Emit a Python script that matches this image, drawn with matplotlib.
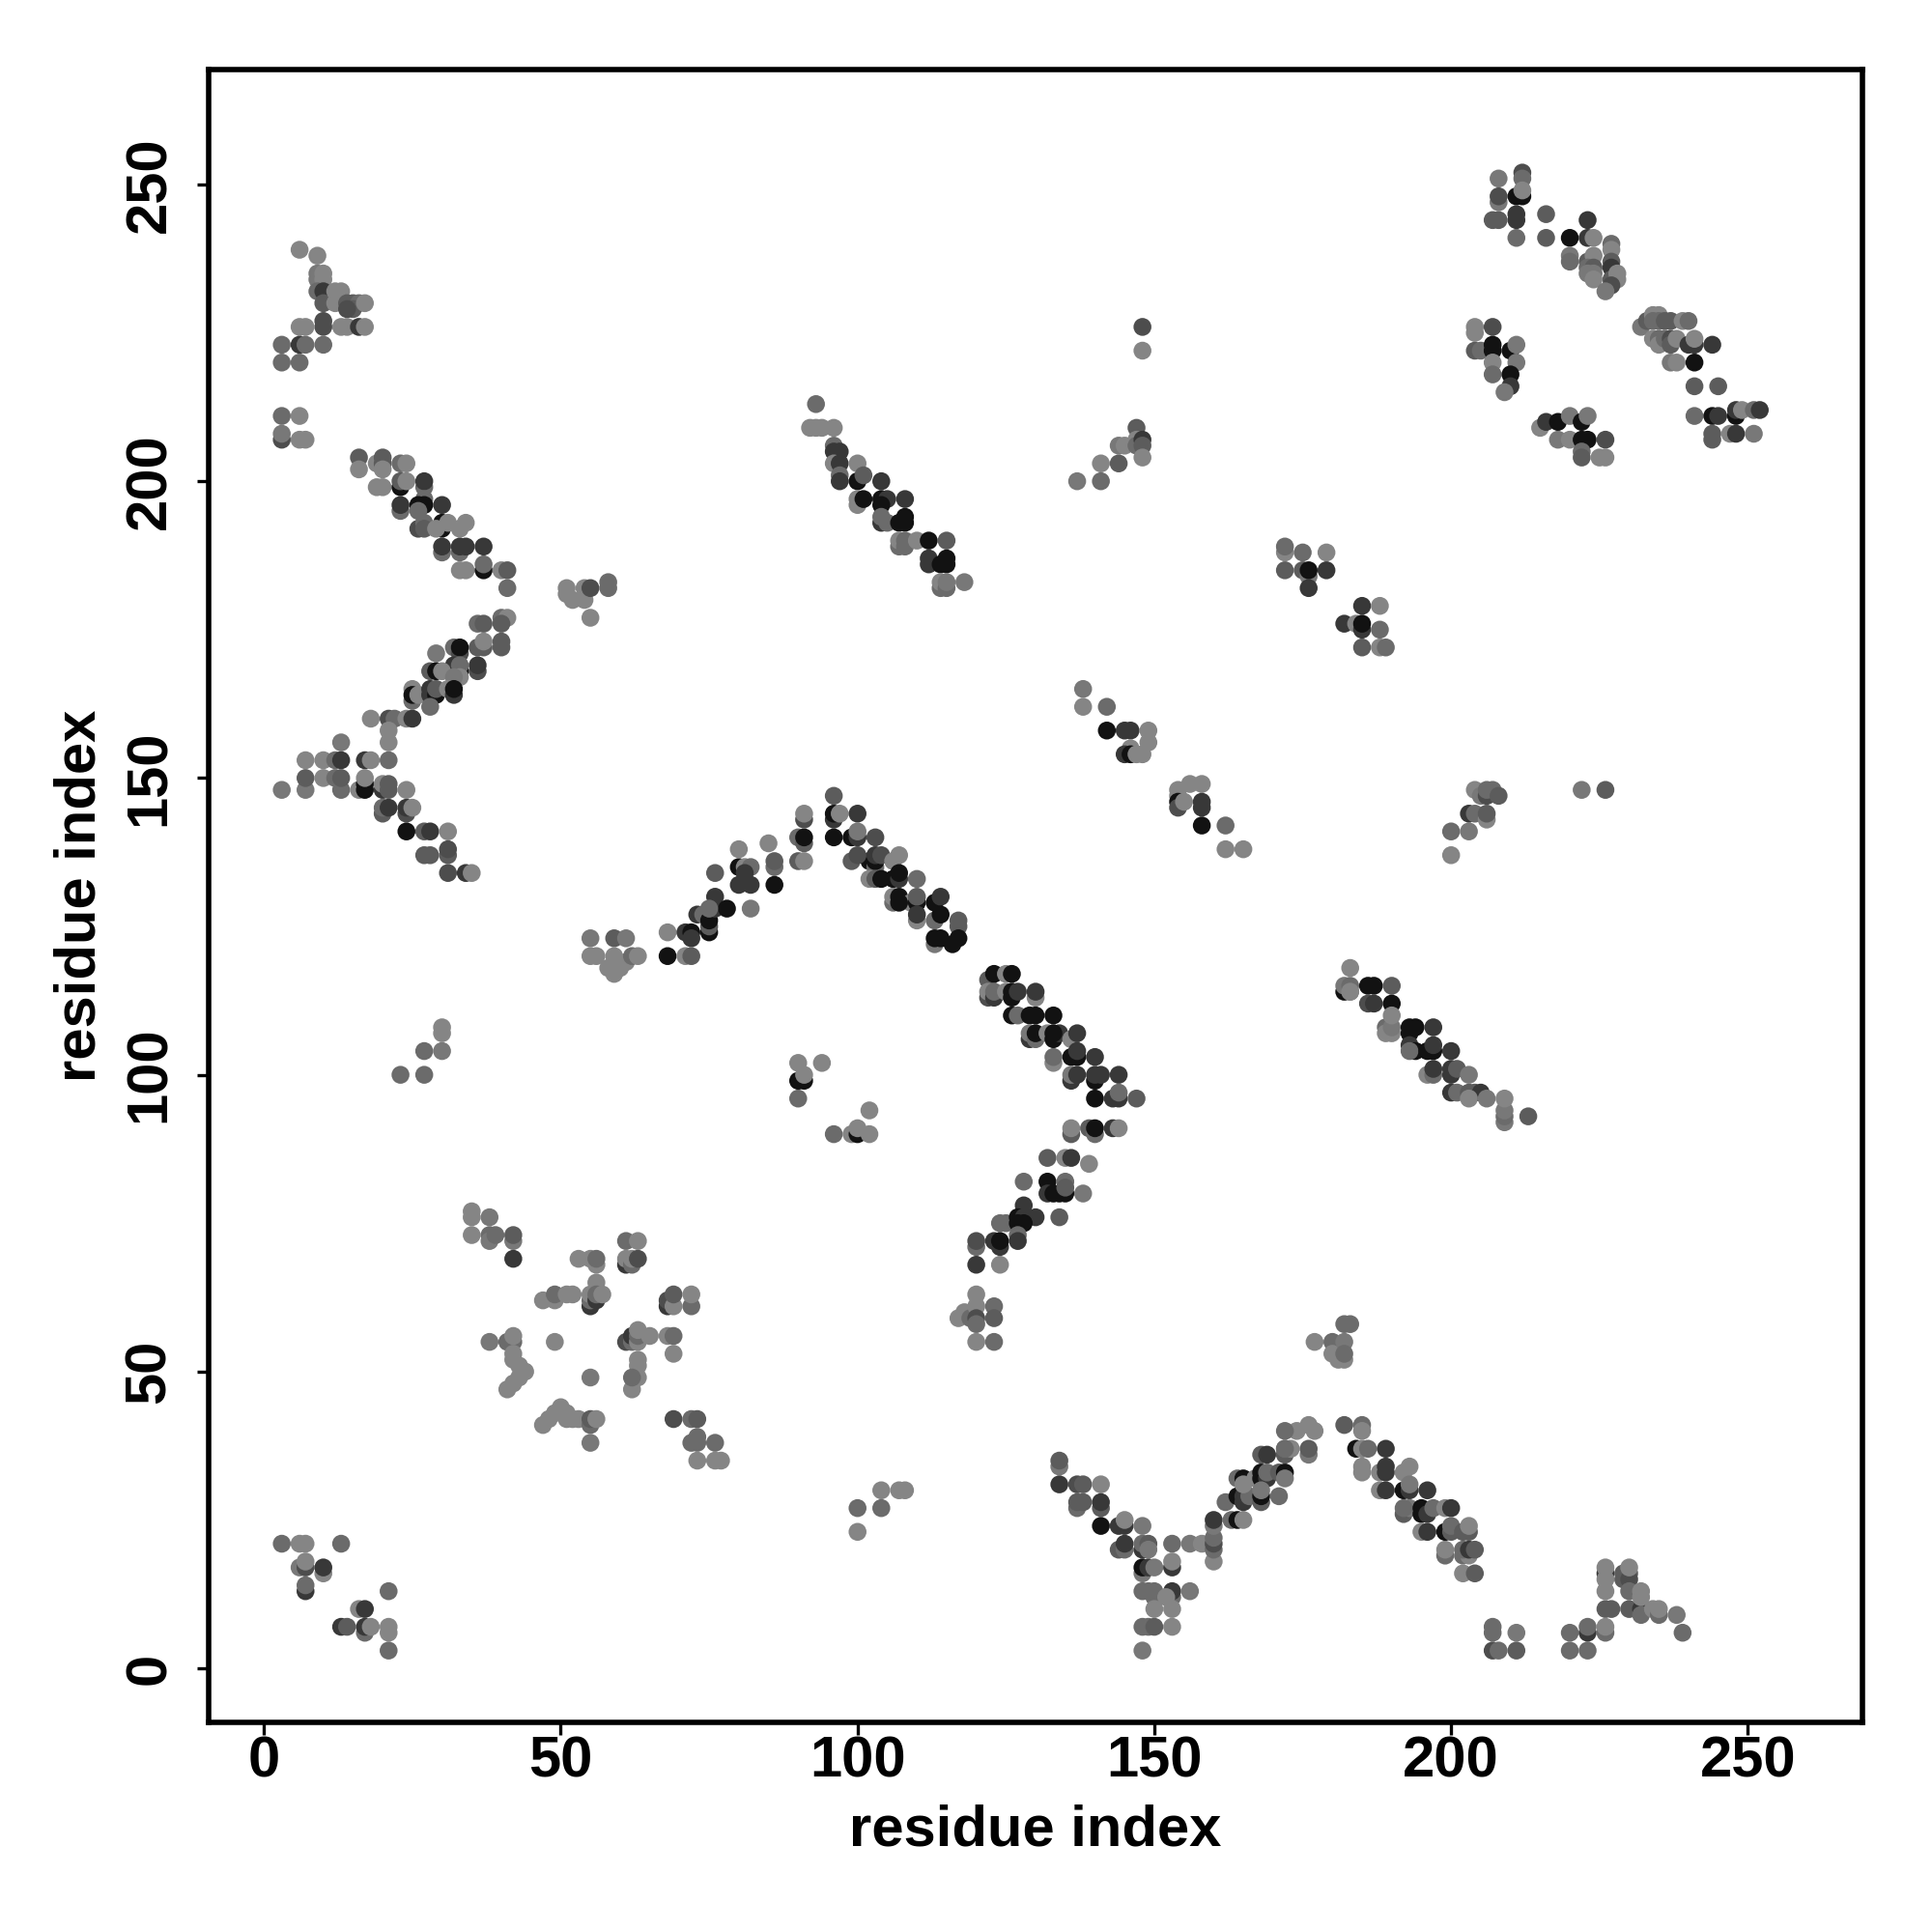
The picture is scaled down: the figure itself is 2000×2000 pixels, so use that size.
import matplotlib
matplotlib.use("Agg")
import matplotlib.pyplot as plt

# Contact map, read off the picture region by region. List order is draw order,
# later points sit on top. One shade letter per point, light (a) to black (g).
shades = {"a": 0.52, "b": 0.47, "c": 0.42, "d": 0.36, "e": 0.30, "f": 0.22, "g": 0.07}

x_top_left = [6, 9, 9, 9, 10, 10, 9, 10, 10, 12, 13, 12, 14, 15, 16, 15, 14, 17,
              10, 10, 6, 7, 13, 14, 16, 17, 6, 7, 3, 10, 3, 6, 3, 6, 3, 3, 6, 7]
y_top_left = [239, 238, 235, 234, 235, 234, 232, 232, 230, 232, 232, 230, 230, 230, 230, 229, 229, 230,
              227, 226, 226, 226, 226, 226, 226, 226, 223, 223, 223, 223, 220, 220, 211, 211, 207, 208, 207, 207]
s_top_left = "aabbaa cfd aaaddcd e a ee aaaafa f c c c c c c a e b a a".replace(" ", "")

x_diag_a = [16, 16, 19, 20, 20, 20, 19, 20, 23, 24, 23, 23, 24, 23, 23, 27, 27, 27, 26, 27, 26,
            30, 26, 27, 27, 30, 30, 31, 29, 33, 34, 30, 30, 33, 34, 33, 37, 33, 34, 37, 37, 40, 41, 41]
y_diag_a = [204, 202, 203, 203, 204, 202, 199, 199, 203, 203, 199, 200, 200, 195, 196, 199, 200, 197, 196, 196, 195,
            196, 192, 193, 192, 192, 193, 193, 192, 192, 193, 188, 189, 188, 189, 189, 189, 185, 185, 185, 186, 185, 185, 182]
s_diag_a = "da a d d a a a c a g d a c f c f c g g c f e c d g g a a a a c f c f f f a a g c a d c".replace(" ", "")

x_small_a = [51, 51, 52, 54, 54, 55, 58, 58, 55]
y_small_a = [182, 181, 180, 182, 180, 182, 183, 182, 177]
s_small_a = "aaaaaecca"

x_arm_up = [40, 41, 40, 36, 37, 36, 37, 37, 40, 40, 32, 33, 33, 29, 36, 36, 32, 32, 33, 33, 33,
            28, 29, 30, 32, 25, 25, 25, 26, 28, 28, 29, 29, 31, 32, 32, 28,
            18, 21, 22, 24, 25, 21, 21, 13]
y_arm_up = [177, 177, 176, 176, 176, 172, 172, 173, 173, 172, 172, 171, 172, 171, 168, 169, 168, 169, 168, 169, 167,
            168, 168, 168, 167, 163, 165, 164, 164, 165, 164, 164, 165, 165, 164, 165, 162,
            160, 160, 160, 160, 160, 158, 156, 156]
s_arm_up = "c a d c d d d a d d c e g b e f g f g c a d g a b c a g a f f g d a f g c a e c a f a a b".replace(" ", "")

x_arm_down = [7, 10, 12, 13, 17, 18, 21, 7, 7, 10, 12, 13, 13, 16, 17, 17, 17, 20, 20, 21, 21, 3, 24,
              20, 20, 21, 24, 24, 25, 24, 27, 28, 31, 27, 28, 31, 31, 31, 34, 35]
y_arm_down = [153, 153, 153, 153, 153, 153, 153, 148, 150, 150, 150, 148, 150, 148, 148, 149, 150, 148, 149, 148, 149, 148, 148,
              144, 145, 145, 144, 145, 145, 141, 141, 141, 141, 137, 137, 137, 138, 134, 134, 134]
s_arm_down = "a a c f f a c b d a c c d a g g a f a d d b a d c f e f a g d f a d d d e e f a d".replace(" ", "")[:40]

x_small_b = [55, 59, 61, 55, 56, 58, 59, 60, 61, 59, 62, 63]
y_small_b = [123, 123, 123, 120, 120, 118, 117, 118, 119, 120, 120, 120]
s_small_b = "bdbaaaaaaaca"

x_peak_left = [68, 71, 72, 72, 68, 71, 72, 73, 74, 75, 75, 75, 76, 76, 78, 75, 82, 76,
               80, 81, 82, 81, 80, 82, 86, 86, 86, 80, 85, 90, 91, 91, 90, 91, 91, 91, 91]
y_peak_left = [124, 124, 124, 123, 120, 120, 120, 127, 127, 124, 125, 126, 130, 128, 128, 128, 128, 134,
               135, 135, 135, 134, 132, 132, 135, 136, 132, 138, 139, 140, 139, 140, 136, 136, 143, 144, 144]
s_peak_left = "afgfgadfcgdgffgcbd gacfffcdgaacdgdaea".replace(" ", "")[:37]

x_peak_right = [96, 96, 96, 97, 100, 96, 99, 100, 100, 103, 99, 102, 103, 103, 100, 103, 104, 107, 106,
                102, 103, 104, 106, 107, 107, 110, 106, 106, 107, 109, 107, 110, 110, 110, 110,
                113, 114, 113, 114, 117, 117, 113, 113, 114, 116, 117]
y_peak_right = [147, 143, 144, 144, 144, 140, 140, 140, 141, 140, 136, 136, 135, 136, 137, 137, 137, 137, 136,
                133, 133, 133, 133, 133, 134, 133, 129, 130, 130, 129, 129, 129, 130, 126, 127,
                129, 130, 126, 127, 125, 126, 122, 123, 123, 122, 123]
s_peak_right = "dfgafggfbe dgcgefea aadggfgcc ag aggda f g f c g d d b g g".replace(" ", "")[:46]
s_peak_right = s_peak_right.ljust(len(x_peak_right), "g")

x_band_mid = [122, 123, 125, 126, 122, 122, 123, 123, 125, 126, 126, 127, 130, 130,
              126, 127, 129, 130, 133, 129, 129, 130, 130, 132, 133, 134, 133, 136, 137,
              133, 133, 136, 137, 137, 140, 136, 136, 137, 140, 141, 140, 144,
              140, 143, 144, 144, 147]
y_band_mid = [116, 117, 117, 117, 113, 114, 113, 114, 114, 113, 114, 114, 113, 114,
              110, 110, 110, 110, 110, 106, 107, 106, 107, 107, 106, 107, 107, 106, 107,
              102, 103, 103, 103, 104, 103, 99, 100, 100, 99, 100, 100, 100,
              96, 96, 96, 97, 96]
s_band_mid = "dgag e a f c a g g f a f g c g g g f b c g a g f g a f a c g g f f f b f g f f f g f f c d".replace(" ", "")[:47]

x_arm_low = [136, 136, 139, 140, 140, 143, 144, 132, 135, 136, 139, 128, 132, 135, 132, 133, 134, 135, 135, 138,
             128, 130, 134, 124, 125, 127, 128, 127, 128, 127, 127,
             120, 120, 123, 124, 124, 120, 124]
y_arm_low = [90, 91, 91, 90, 91, 91, 91, 86, 86, 86, 85, 82, 82, 82, 80, 80, 80, 80, 81, 80,
             78, 76, 76, 75, 75, 76, 76, 75, 75, 73, 72,
             71, 72, 72, 71, 72, 68, 68]
s_arm_low = "da d c g f a d a f a c g c f g g g d b f f d c c g f g g c f c e f f g f a".replace(" ", "")

x_band_right = [182, 183, 182, 183, 183, 183, 186, 187, 190, 186, 187, 190,
                189, 190, 189, 190, 190, 193, 194, 193, 197,
                193, 194, 193, 196, 197, 197, 200,
                196, 197, 197, 200, 200, 201, 203,
                200, 201, 203, 204, 205, 203, 206, 209, 209, 209, 209, 213]
y_band_right = [114, 114, 115, 115, 118, 114, 115, 115, 115, 112, 112, 112,
                108, 107, 107, 108, 110, 108, 108, 107, 108,
                105, 104, 104, 104, 104, 105, 104,
                100, 100, 101, 101, 100, 101, 100,
                97, 97, 97, 97, 97, 96, 96, 92, 93, 94, 96, 93]
s_band_right = "g a b c a a g g d e f g c a a b a g g g f f g c g g f f a c f f f d b f c d d f a b b c b a d".replace(" ", "")

x_left_low = [35, 35, 38, 35, 38, 38, 39, 42, 42, 42, 53, 55, 56, 56, 61, 63, 61, 61, 62, 62, 63,
              56, 55, 55, 55, 56, 56, 57, 47, 49, 49, 51, 52,
              68, 68, 69, 69, 72, 72]
y_left_low = [77, 76, 76, 73, 73, 72, 73, 72, 73, 69, 69, 69, 68, 69, 72, 72, 68, 69, 68, 69, 69,
              65, 61, 62, 63, 62, 63, 63, 62, 62, 63, 63, 63,
              61, 62, 61, 63, 61, 63]
s_left_low = "a a b a c b c b d f a a a c c a f a c a e a f c a f c a a a c a a f e a d c a".replace(" ", "")

x_left_mid = [38, 41, 42, 42, 42, 42, 43, 44, 43, 42, 41, 49, 55,
              61, 62, 62, 63, 63, 63, 65, 68, 69, 69, 63, 63, 62, 63, 62]
y_left_mid = [55, 55, 55, 56, 53, 52, 51, 50, 49, 48, 47, 55, 49,
              55, 55, 56, 55, 56, 57, 56, 56, 56, 53, 52, 51, 47, 49, 49]
s_left_mid = "b c c a a a a a a a a a b e c f a c a a a c a a a a a c".replace(" ", "")[:28]

x_left_bot = [47, 48, 49, 50, 51, 51, 52, 53, 55, 55, 56, 55,
              69, 72, 73, 72, 73, 73, 76, 73, 76, 77]
y_left_bot = [41, 42, 43, 44, 43, 42, 42, 42, 41, 42, 42, 38,
              42, 42, 42, 38, 38, 39, 38, 35, 35, 35]
s_left_bot = "aaaaaaaacdab e c d c c c c a a a".replace(" ", "")

x_corner = [3, 6, 7, 13, 6, 7, 7, 10, 10, 7, 7, 21, 16, 17, 13, 14, 17, 17, 18, 21, 21, 21, 100, 100, 104, 104, 107, 108]
y_corner = [21, 21, 21, 21, 17, 17, 18, 16, 17, 13, 14, 13, 10, 10, 7, 7, 6, 7, 7, 7, 6, 3, 23, 27, 27, 30, 30, 30]
s_corner = "c a a c b e a a f f c c a f f d c f a a a c a c c a a a".replace(" ", "")

x_v_left = [134, 134, 134, 137, 138, 141, 137, 137, 138, 141, 141, 141, 144, 145, 145, 148,
            144, 145, 145, 148, 148, 149, 149, 153, 156, 158,
            148, 148, 149, 150, 153, 153, 148, 149, 150, 150, 153, 153, 152, 156, 150, 153, 148, 149, 150, 153, 148]
y_v_left = [34, 35, 31, 31, 31, 31, 27, 28, 28, 27, 28, 24, 24, 24, 25, 24,
            20, 20, 21, 20, 21, 21, 20, 21, 21, 21,
            16, 17, 17, 17, 17, 18, 13, 13, 13, 12, 12, 13, 12, 13, 10, 10, 7, 7, 7, 7, 3]
s_v_left = "b d f e d a c d d d f g f f a b d c f f c d b c b a b g f b f a c c c c c f a b a a c c d a b".replace(" ", "")

x_v_up = [160, 160, 160, 160, 160, 160, 162, 163, 164, 165, 164, 165, 165, 166, 164, 165, 165, 167,
          168, 168, 169, 169, 168, 168, 168, 171, 171, 172, 172,
          168, 169, 172, 172, 173, 176, 176, 172, 174, 172, 176, 177]
y_v_up = [18, 20, 21, 22, 24, 25, 28, 25, 25, 25, 29, 28, 29, 29, 32, 32, 31, 32,
          33, 32, 32, 33, 28, 29, 30, 29, 33, 33, 32,
          36, 36, 36, 37, 37, 36, 37, 37, 40, 40, 41, 40]
s_v_up = "a c e c b f c c g a g f f c c g a a g g f c d g b c d g b d f d c a b d c a c a a".replace(" ", "")

x_v_down = [182, 185, 185, 184, 185, 186, 189, 185, 185, 188, 189, 189, 193, 192,
            188, 189, 192, 193, 193, 196,
            192, 193, 192, 195, 195, 196, 197, 199, 200,
            195, 196, 199, 200, 200, 202, 203, 203,
            199, 199, 202, 203, 202, 203, 204, 202, 204]
y_v_down = [41, 41, 40, 37, 37, 37, 37, 34, 33, 33, 34, 33, 34, 33,
            30, 30, 30, 30, 31, 30,
            26, 27, 27, 27, 26, 26, 27, 27, 27,
            23, 23, 23, 23, 24, 23, 23, 24,
            19, 20, 19, 19, 20, 20, 20, 16, 16]
s_v_down = "d c a g a c f a a a f f a a a f g f b f d b c g g f c a f a f g d c d d a c a c a c f d a d".replace(" ", "")[:46]

x_bot_right = [207, 207, 211, 207, 208, 211, 220, 220, 223, 223, 223, 226, 227, 226, 226,
               226, 226, 226, 226, 229, 229, 230, 230, 230, 230, 230, 232, 232, 232, 232, 234, 235, 235, 238, 239]
y_bot_right = [7, 6, 6, 3, 3, 3, 6, 3, 3, 6, 7, 10, 10, 6, 7,
               16, 17, 15, 13, 16, 15, 16, 15, 13, 17, 10, 10, 9, 13, 12, 10, 9, 10, 9, 6]
s_bot_right = "c c b e c d c c c f c d d c a f a a a d d d e c a d f c a a a c a b c".replace(" ", "")

x_pair_small = [23, 27, 27, 30, 30, 30, 90, 90, 91, 91, 94, 90, 96, 99, 100, 100, 102, 102]
y_pair_small = [100, 100, 104, 104, 107, 108, 102, 99, 99, 100, 102, 96, 90, 90, 90, 91, 90, 94]
s_pair_small = "c c c b a a a g g a a c c a g a a a".replace(" ", "")

x_mid_right = [138, 138, 142, 142, 145, 146, 149, 149, 146, 145, 146, 147, 148,
               154, 156, 158, 154, 154, 154, 155, 158, 158, 158, 162, 162, 165,
               200, 203, 200, 203, 204, 206, 206, 204, 205, 206, 207, 206, 208, 222, 226]
y_mid_right = [165, 162, 162, 158, 158, 158, 158, 156, 155, 154, 154, 154, 154,
               148, 149, 149, 147, 146, 145, 146, 146, 145, 142, 142, 138, 138,
               141, 141, 137, 144, 144, 143, 144, 148, 147, 147, 148, 148, 147, 148, 148]
s_mid_right = "b a c g f f a a a f g a a a a a a g e a f f g c a a c b a f c a d a b e c c d b d".replace(" ", "")[:41]

x_valley = [137, 141, 141, 144, 145, 144, 147, 147, 147, 148, 148, 148, 148, 148,
            172, 172, 175, 179, 172, 175, 176, 176, 176, 179,
            185, 188, 182, 184, 185, 185, 188, 185, 188, 189,
            117, 118, 119, 120, 120, 120, 120, 120, 123, 123, 123, 177, 180, 180, 181, 182, 182, 182, 182, 183]
y_valley = [200, 203, 200, 206, 206, 203, 209, 207, 206, 207, 206, 204, 222, 226,
            188, 189, 188, 188, 185, 185, 184, 185, 182, 185,
            179, 179, 176, 176, 175, 176, 175, 172, 172, 172,
            59, 60, 59, 63, 61, 59, 58, 55, 61, 59, 55, 55, 55, 53, 52, 52, 55, 53, 58, 58]
s_valley = "b a c b a d d a c f d a a e a c c a d d b g f f f a f a f g c d a c a a c a a e c a c d c a c a a a b c c c".replace(" ", "")

x_diag_top = [93, 92, 93, 94, 96, 96, 96, 97, 96, 97, 97, 97, 100, 100, 101, 104, 100, 100, 101, 104, 105, 104, 108,
              104, 104, 105, 107, 108, 108, 107, 107, 108, 108, 110, 112, 115, 112, 112, 114, 115, 115,
              114, 114, 115, 115, 118]
y_diag_top = [213, 209, 209, 209, 209, 206, 205, 205, 203, 203, 201, 200, 203, 200, 201, 200, 196, 197, 197, 197, 197, 196, 197,
              193, 194, 193, 193, 193, 194, 189, 190, 189, 190, 190, 190, 190, 187, 186, 186, 187, 186,
              182, 183, 182, 183, 183]
s_diag_top = "c a a a a c f f a f c f a g d f a a g g f g f f c c g g g c a c c a g d f f g g g c a c b b".replace(" ", "")[:46]

x_top_right_a = [208, 212, 212, 208, 208, 211, 212, 212, 211, 211, 207, 208, 211,
                 216, 216, 220, 223, 223, 224, 220, 220, 227, 227, 223, 224, 223, 224, 223, 224, 224, 227, 227, 227, 228, 228, 227, 226]
y_top_right_a = [251, 252, 251, 247, 248, 248, 248, 249, 244, 245, 244, 244, 241,
                 245, 241, 241, 244, 241, 241, 238, 237, 240, 239, 237, 238, 236, 236, 235, 235, 234, 237, 236, 234, 235, 234, 233, 232]
s_top_right_a = "b e c b e g g a f f d d c d d g f f a b c c a d a c d b b a d f d a a e b".replace(" ", "")

x_top_right_b = [204, 204, 207, 204, 205, 207, 207, 207, 207, 210, 211, 211, 210, 210, 209,
                 215, 216, 218, 220, 222, 223, 218, 220, 222, 223, 226, 222, 222, 225, 226]
y_top_right_b = [226, 225, 226, 222, 222, 223, 222, 220, 218, 222, 223, 220, 218, 216, 215,
                 209, 210, 210, 211, 210, 211, 207, 207, 207, 207, 207, 205, 204, 204, 204]
s_top_right_b = "a a e d c g g a c g b b g f b a f g b g b b a g g e c d a a".replace(" ", "")

x_top_right_c = [232, 233, 234, 235, 235, 234, 236, 237, 239, 240,
                 234, 235, 235, 236, 237, 237, 238, 240, 241, 241, 244, 237, 238, 241,
                 241, 245, 241, 244, 245, 248, 248, 249, 251, 252, 244, 244, 247, 248, 251]
y_top_right_c = [226, 227, 228, 228, 227, 227, 227, 227, 227, 227,
                 224, 224, 223, 224, 224, 223, 224, 223, 223, 224, 223, 220, 220, 220,
                 216, 216, 211, 211, 211, 211, 212, 212, 212, 212, 208, 207, 208, 208, 208]
s_top_right_c = "b d a a c c d d a c a c a c e d a f f a f b a g d d c g f g f a c f d d a f b".replace(" ", "")

regions = [
    (x_top_left, y_top_left, s_top_left),
    (x_diag_a, y_diag_a, s_diag_a),
    (x_small_a, y_small_a, s_small_a),
    (x_arm_up, y_arm_up, s_arm_up),
    (x_arm_down, y_arm_down, s_arm_down),
    (x_small_b, y_small_b, s_small_b),
    (x_peak_left, y_peak_left, s_peak_left),
    (x_peak_right, y_peak_right, s_peak_right),
    (x_band_mid, y_band_mid, s_band_mid),
    (x_arm_low, y_arm_low, s_arm_low),
    (x_band_right, y_band_right, s_band_right),
    (x_left_low, y_left_low, s_left_low),
    (x_left_mid, y_left_mid, s_left_mid),
    (x_left_bot, y_left_bot, s_left_bot),
    (x_corner, y_corner, s_corner),
    (x_v_left, y_v_left, s_v_left),
    (x_v_up, y_v_up, s_v_up),
    (x_v_down, y_v_down, s_v_down),
    (x_bot_right, y_bot_right, s_bot_right),
    (x_pair_small, y_pair_small, s_pair_small),
    (x_mid_right, y_mid_right, s_mid_right),
    (x_valley, y_valley, s_valley),
    (x_diag_top, y_diag_top, s_diag_top),
    (x_top_right_a, y_top_right_a, s_top_right_a),
    (x_top_right_b, y_top_right_b, s_top_right_b),
    (x_top_right_c, y_top_right_c, s_top_right_c),
]

ticks = [0, 50, 100, 150, 200, 250]

plt.rcParams["font.family"] = ["Liberation Sans", "DejaVu Sans"]
plt.rcParams["font.weight"] = "bold"

fig = plt.figure(figsize=(10, 10), dpi=200)
ax = fig.add_axes([216.3 / 2000, 1 - 1783 / 2000, (1928 - 216.3) / 2000, (1783 - 72) / 2000])

for i, (xs, ys, ss) in enumerate(regions):
    if not (len(xs) == len(ys) == len(ss)):
        print("length mismatch in region", i, len(xs), len(ys), len(ss))
    colours = [str(shades[c]) for c in ss]
    n = min(len(xs), len(ys), len(ss))
    ax.scatter(xs[:n], ys[:n], s=44.5, c=colours[:n], linewidths=0, zorder=2)

ax.set_xlim(-9.27, 269.3)
ax.set_ylim(-9.1, 269.36)
ax.set_xticks(ticks)
ax.set_yticks(ticks)
ax.tick_params(length=4.5, width=1.2, labelsize=21.5)
ax.tick_params(axis="x", pad=0.5)
ax.tick_params(axis="y", pad=7.5)
for lab in ax.get_yticklabels():
    lab.set_rotation(90)
    lab.set_va("center")
for spine in ax.spines.values():
    spine.set_linewidth(2.0)

ax.set_xlabel("residue index", fontsize=21.5, fontweight="bold")
ax.set_ylabel("residue index", fontsize=21.5, fontweight="bold")
ax.xaxis.set_label_coords(0.5, -0.0496)
ax.yaxis.set_label_coords(-0.0616, 0.5)

fig.savefig("out.png", dpi=200)
